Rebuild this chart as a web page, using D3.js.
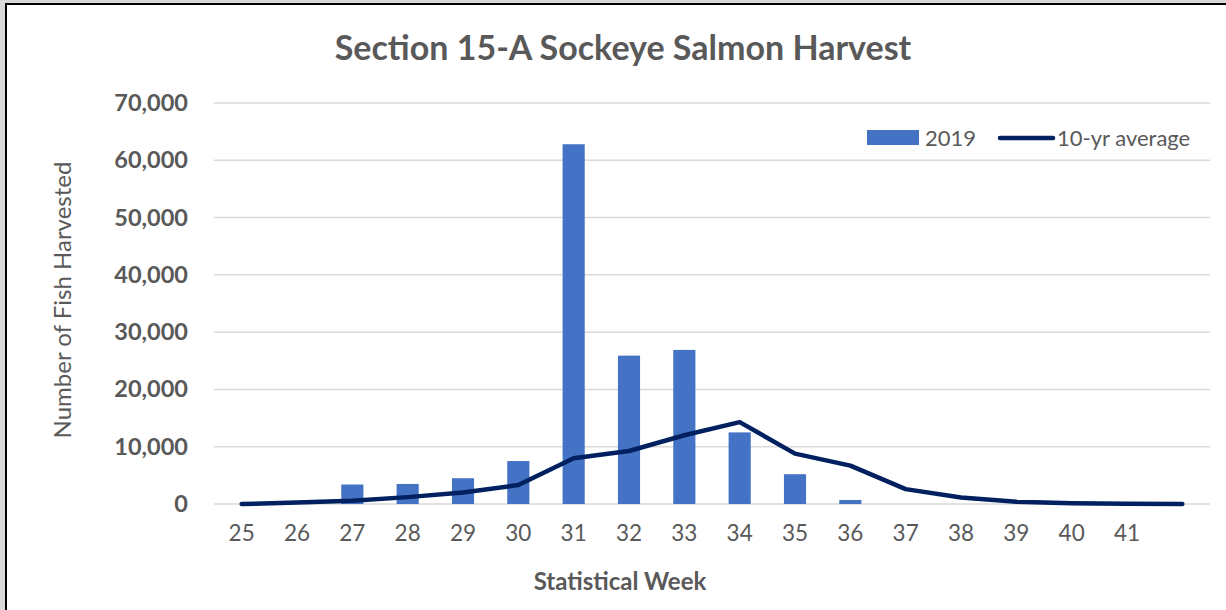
<!DOCTYPE html>
<html>
<head>
<meta charset="utf-8">
<script src="https://cdn.jsdelivr.net/npm/d3@7"></script>
<style>
  html, body { margin: 0; padding: 0; background: #d9d9d9; }
  svg { display: block; }
</style>
</head>
<body>
<div id="chart"></div>
<script>
// chart values
const weeks = ["25", "26", "27", "28", "29", "30", "31", "32", "33", "34", "35", "36", "37", "38", "39", "40", "41", ""];
const harvest2019 = [0, 0, 3400, 3500, 4500, 7500, 62800, 25900, 26900, 12500, 5200, 700, 0, 0, 0, 0, 0, 0];
const tenYearAvg = [0, 250, 550, 1200, 2000, 3300, 8000, 9250, 12000, 14300, 8800, 6700, 2600, 1150, 400, 150, 60, 20];
const yTicks = [0, 10000, 20000, 30000, 40000, 50000, 60000, 70000];

const width = 1226, height = 610;
const margin = { top: 103, right: 16, bottom: 106, left: 214 };
const textColor = "#595959";
const font = "Lato, 'Open Sans', sans-serif";

const svg = d3.select("#chart")
  .append("svg")
  .attr("width", width)
  .attr("height", height);

// white chart area with the dark frame on top / left
svg.append("rect")
  .attr("x", 6).attr("y", 4)
  .attr("width", width).attr("height", height)
  .attr("fill", "#fff")
  .attr("stroke", "#000")
  .attr("stroke-width", 2);

const x = d3.scaleBand()
  .domain(d3.range(weeks.length))
  .range([margin.left, width - margin.right]);

const y = d3.scaleLinear()
  .domain([0, 70000])
  .range([height - margin.bottom, margin.top]);

// gridlines
svg.append("g")
  .selectAll("line")
  .data(yTicks)
  .join("line")
  .attr("x1", margin.left)
  .attr("x2", width - margin.right)
  .attr("y1", d => y(d))
  .attr("y2", d => y(d))
  .attr("stroke", "#d9d9d9")
  .attr("stroke-width", 1.5);

// y axis labels
const yAxis = svg.append("g")
  .attr("transform", `translate(${margin.left - 26},0)`)
  .call(d3.axisLeft(y).tickValues(yTicks).tickFormat(d3.format(",")).tickSize(0).tickPadding(0));
yAxis.select(".domain").remove();
yAxis.selectAll("text")
  .attr("fill", textColor)
  .style("font-family", font)
  .style("font-size", "23.5px")
  .style("font-weight", "bold");

// x axis labels
const xAxis = svg.append("g")
  .attr("transform", `translate(0,${height - margin.bottom})`)
  .call(d3.axisBottom(x).tickFormat(i => weeks[i]).tickSize(0).tickPadding(21));
xAxis.select(".domain").remove();
xAxis.selectAll("text")
  .attr("fill", textColor)
  .style("font-family", font)
  .style("font-size", "22.5px");

// bars
const barW = x.bandwidth() * 0.4;
svg.append("g")
  .selectAll("rect")
  .data(harvest2019)
  .join("rect")
  .attr("x", (d, i) => x(i) + (x.bandwidth() - barW) / 2)
  .attr("y", d => y(d))
  .attr("width", barW)
  .attr("height", d => y(0) - y(d))
  .attr("fill", "#4472c4");

// 10-yr average line
const line = d3.line()
  .x((d, i) => x(i) + x.bandwidth() / 2)
  .y(d => y(d));

svg.append("path")
  .datum(tenYearAvg)
  .attr("d", line)
  .attr("fill", "none")
  .attr("stroke", "#002060")
  .attr("stroke-width", 4.5)
  .attr("stroke-linecap", "round")
  .attr("stroke-linejoin", "round");

// title
svg.append("text")
  .attr("x", 623).attr("y", 60)
  .attr("text-anchor", "middle")
  .attr("fill", textColor)
  .style("font-family", font)
  .style("font-size", "34px")
  .style("font-weight", "bold")
  .text("Section 15-A Sockeye Salmon Harvest");

// axis titles
svg.append("text")
  .attr("transform", "translate(71,300) rotate(-90)")
  .attr("text-anchor", "middle")
  .attr("fill", textColor)
  .style("font-family", font)
  .style("font-size", "24px")
  .text("Number of Fish Harvested");

svg.append("text")
  .attr("x", 620).attr("y", 590)
  .attr("text-anchor", "middle")
  .attr("fill", textColor)
  .style("font-family", font)
  .style("font-size", "24px")
  .style("font-weight", "bold")
  .text("Statistical Week");

// legend
const legend = svg.append("g").style("font-family", font).style("font-size", "22px");
legend.append("rect")
  .attr("x", 867).attr("y", 130).attr("width", 52).attr("height", 15)
  .attr("fill", "#4472c4");
legend.append("text")
  .attr("x", 925).attr("y", 146).attr("fill", textColor).text("2019");
legend.append("line")
  .attr("x1", 1000).attr("x2", 1053).attr("y1", 138).attr("y2", 138)
  .attr("stroke", "#002060").attr("stroke-width", 4.5).attr("stroke-linecap", "round");
legend.append("text")
  .attr("x", 1057).attr("y", 146).attr("fill", textColor).text("10-yr average");
</script>
</body>
</html>
